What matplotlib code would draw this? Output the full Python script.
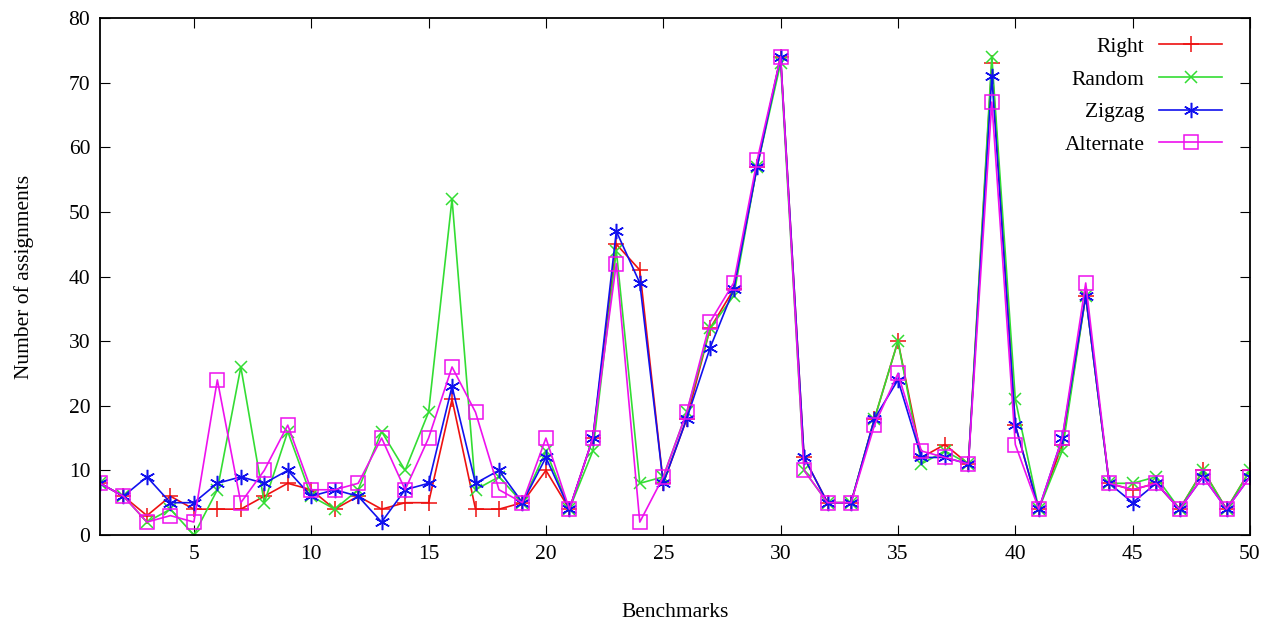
import matplotlib
matplotlib.use('Agg')
import matplotlib.pyplot as plt
import numpy as np

plt.rcParams['font.family'] = ['Liberation Serif', 'DejaVu Serif']

benchmarks = np.arange(1, 51)

right = [8, 6, 3, 6, 4, 4, 4, 6, 8, 7, 4, 6, 4, 5, 5, 21, 4, 4, 5, 10,
         4, 15, 45, 41, 8, 18, 32, 38, 57, 74, 12, 5, 5, 18, 30, 12, 14, 11, 73, 17,
         4, 14, 37, 8, 7, 8, 4, 10, 4, 10]
random_ = [8, 6, 2, 4, 0, 7, 26, 5, 16, 6, 4, 7, 16, 10, 19, 52, 7, 9, 5, 13,
           4, 13, 44, 8, 9, 19, 32, 37, 57, 73, 10, 5, 5, 18, 30, 11, 13, 11, 74, 21,
           4, 13, 37, 8, 8, 9, 4, 10, 4, 10]
zigzag = [8, 6, 9, 5, 5, 8, 9, 8, 10, 6, 7, 6, 2, 7, 8, 23, 8, 10, 5, 12,
          4, 15, 47, 39, 8, 18, 29, 38, 57, 74, 12, 5, 5, 18, 24, 12, 12, 11, 71, 17,
          4, 15, 37, 8, 5, 8, 4, 9, 4, 9]
alternate = [8, 6, 2, 3, 2, 24, 5, 10, 17, 7, 7, 8, 15, 7, 15, 26, 19, 7, 5, 15,
             4, 15, 42, 2, 9, 19, 33, 39, 58, 74, 10, 5, 5, 17, 25, 13, 12, 11, 67, 14,
             4, 15, 39, 8, 7, 8, 4, 9, 4, 9]

fig = plt.figure(figsize=(12.69, 6.23), dpi=100)
ax = fig.add_axes([100 / 1269, 1 - 535 / 623, 1150 / 1269, 517 / 623])

ax.plot(benchmarks, right, color='#ee1111', marker='+', ms=11, lw=1.2, mew=1.1, label='Right')
ax.plot(benchmarks, random_, color='#33dd33', marker='x', ms=9, lw=1.2, mew=1.1, label='Random')
ax.plot(benchmarks, zigzag, color='#1111ee', marker=(6, 2, 0), ms=11, lw=1.2, mew=1.1, label='Zigzag')
ax.plot(benchmarks, alternate, color='#ee11ee', marker='s', mfc='none', ms=10, lw=1.2, mew=1.1, label='Alternate')

ax.set_xlim(1, 50)
ax.set_ylim(0, 80)
ax.set_xticks([5, 10, 15, 20, 25, 30, 35, 40, 45, 50])
ax.set_yticks(range(0, 81, 10))
ax.tick_params(direction='in', top=True, right=True, labelsize=15.5, length=7, pad=7)
for s in ax.spines.values():
    s.set_linewidth(1.3)

ax.set_xlabel('Benchmarks', fontsize=15.5, labelpad=28)
ax.set_ylabel('Number of assignments', fontsize=15.5, labelpad=25)

ax.legend(loc='upper right', bbox_to_anchor=(0.983, 0.980), frameon=False, markerfirst=False,
          fontsize=15.5, handlelength=2.9, labelspacing=0.58, borderaxespad=0, handletextpad=0.7)

fig.savefig('out.png', dpi=100)
